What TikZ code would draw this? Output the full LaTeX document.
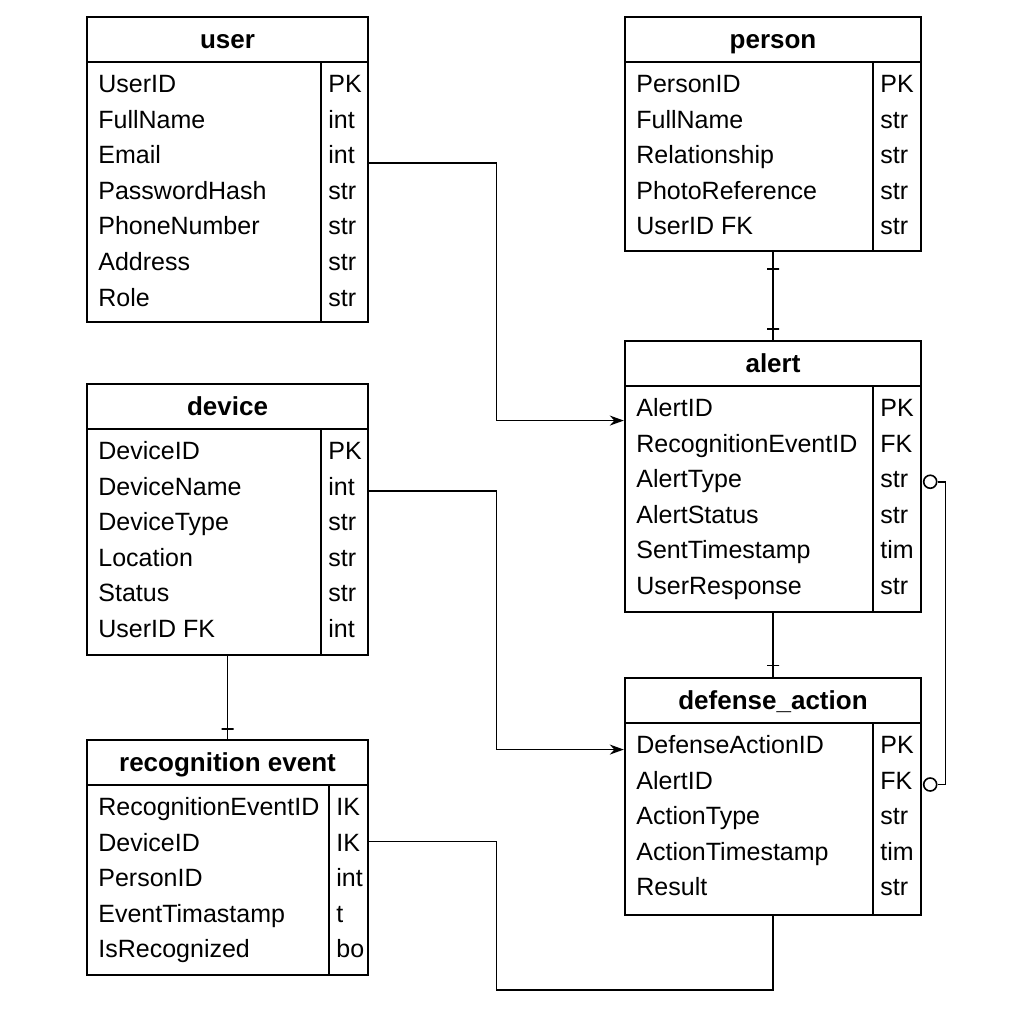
\documentclass[tikz,border=0pt]{standalone}
\usepackage{fontspec}
\setmainfont{Liberation Sans}
\usetikzlibrary{arrows.meta,fit,calc}

\tikzset{
  tablebox/.style = {draw, line width=1.2pt, inner sep=0pt},
  tableline/.style = {line width=1.1pt},
  tablehead/.style = {anchor=base, font=\fontsize{13}{15}\selectfont\bfseries, inner sep=0pt},
  field/.style = {anchor=base west, font=\fontsize{12.5}{15}\selectfont, inner sep=0pt},
  link/.style = {line width=0.8pt},
  tick/.style = {draw, line width=0.8pt, minimum width=6pt, minimum height=0pt, inner sep=0pt},
  optional/.style = {draw, circle, line width=0.8pt, minimum size=6.5pt, inner sep=0pt, fill=white},
}

% name, title, left, top, right, divider, bottom, rows
\newcommand{\ertable}[8]{%
  \node[tablebox, fit={(#3,#4) (#5,#7)}] (#1) {};
  \node[tablehead] (#1-title) at ({(#3+#5)/2},#4+31) {#2};
  \draw[tableline] (#3,#4+45) -- (#5,#4+45);
  \draw[tableline] (#6,#4+45) -- (#6,#7);
  \foreach \fld/\typ [count=\i] in {#8} {
    \node[field] (#1-\i) at (#3+11,#4+75.5+35.6*\i-35.6) {\fld};
    \node[field] (#1-t\i) at (#6+7,#4+75.5+35.6*\i-35.6) {\typ};
  }
}

\begin{document}
\begin{tikzpicture}[x=0.5pt, y=-0.5pt]
  \useasboundingbox[fill=white] (0,0) rectangle (1024,1024);

  \ertable{user}{user}{87}{17}{368}{321}{322}
    {UserID/PK, FullName/int, Email/int, PasswordHash/str, PhoneNumber/str, Address/str, Role/str}
  \ertable{person}{person}{625}{17}{921}{873}{251}
    {PersonID/PK, FullName/str, Relationship/str, PhotoReference/str, UserID FK/str}
  \ertable{device}{device}{87}{384}{368}{321}{655}
    {DeviceID/PK, DeviceName/int, DeviceType/str, Location/str, Status/str, UserID FK/int}
  \ertable{alert}{alert}{625}{341}{921}{873}{612}
    {AlertID/PK, RecognitionEventID/FK, AlertType/str, AlertStatus/str, SentTimestamp/tim, UserResponse/str}
  \ertable{event}{recognition event}{87}{740}{368}{329}{975}
    {RecognitionEventID/IK, DeviceID/IK, PersonID/int, EventTimastamp/t, IsRecognized/bo}
  \ertable{defense}{defense\_action}{625}{678}{921}{873}{915}
    {DefenseActionID/PK, AlertID/FK, ActionType/str, ActionTimestamp/tim, Result/str}

  \coordinate (mid) at ($(user.east)!.5!(alert.west)$);
  \coordinate (low) at (0,990);

  \draw[link, -{Stealth[length=7pt, width=5pt]}] ($(user.east |- user-t3)+(0,8)$) -- ($(mid |- user-t3)+(0,8)$)
    |- ($(alert.west |- alert-1)+(0,13)$);
  \draw[link, -{Stealth[length=7pt, width=5pt]}] ($(device.east |- device-t2)+(0,5)$) -- ($(mid |- device-t2)+(0,5)$)
    |- ($(defense.west |- defense-1)+(0,5)$);
  \draw[link] ($(event.east |- event-t2)+(0,-1)$) -- ($(mid |- event-t2)+(0,-1)$) -- (mid |- low) -| (defense.south);

  \draw[link] (person.south) -- (alert.north) node[tick, pos=0.19] {} node[tick, pos=0.88] {};
  \draw[link] (device.south) -- (event.north) node[tick, pos=0.88] {};
  \draw[link] (alert.south) -- (defense.north) node[tick, pos=0.82] {};

  \node[optional] (opt-a) at ($(alert.east |- alert-t3)+(8,2)$) {};
  \node[optional] (opt-d) at ($(defense.east |- defense-t2)+(8,4)$) {};
  \draw[link] (opt-a.east) -- ++(8,0) |- (opt-d.east);
\end{tikzpicture}
\end{document}
